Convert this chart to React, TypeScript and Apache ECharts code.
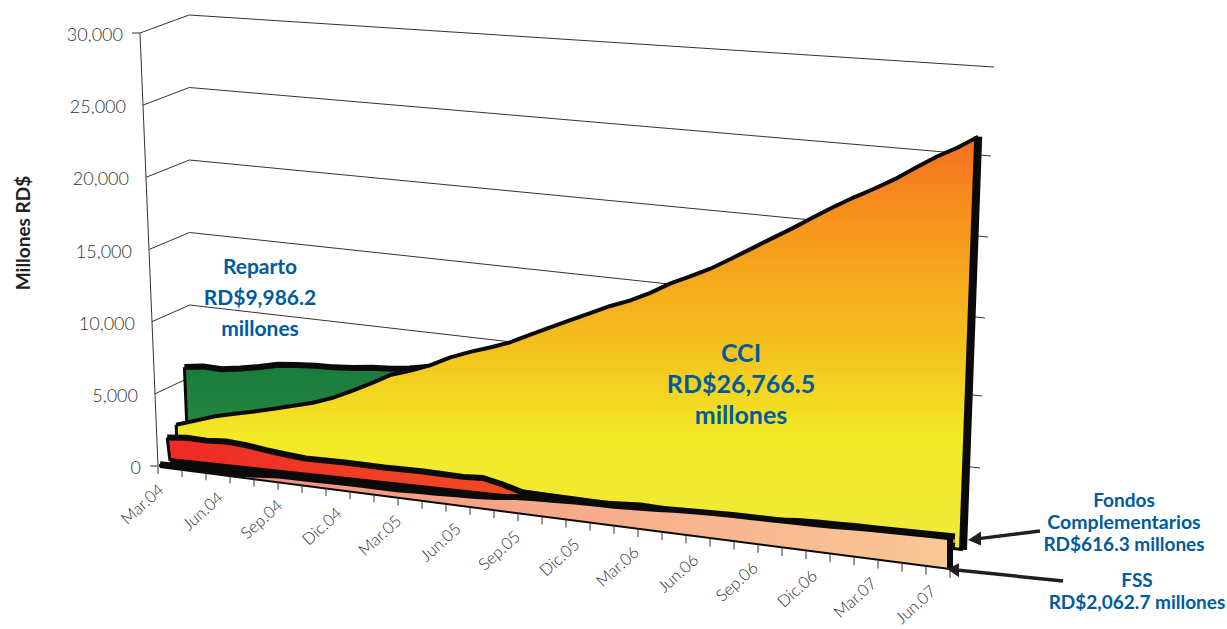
import React, { useEffect, useRef } from "react";
import * as echarts from "echarts";

const xLabels = ["Mar.04","Jun.04","Sep.04","Dic.04","Mar.05","Jun.05","Sep.05","Dic.05","Mar.06","Jun.06","Sep.06","Dic.06","Mar.07","Jun.07"];
const yTicks = [0, 5000, 10000, 15000, 20000, 25000, 30000];
const tickIntervals = 33;
const lastMonth = 40;

// one value per month, Mar.04 .. Jul.07, millones RD$
const reparto = [4360,4540,4510,4700,4950,5260,5380,5470,5510,5610,5780,5850,6000,6250,6500,6750,6900,7000,7100,7200,7300,7400,7500,7600,7700,7800,7900,8000,8100,8250,8400,8550,8700,8850,9000,9150,9300,9450,9600,9800,9986];
const cci = [1400,1865,2350,2690,3030,3390,3770,4150,4650,5300,6000,6740,7180,7720,8410,8940,9400,9900,10560,11210,11860,12480,13110,13630,14290,15070,15700,16350,17140,17950,18770,19570,20420,21250,22020,22730,23490,24370,25210,25920,26766];
const fondos = [1620,1760,1700,1780,1680,1480,1320,1190,1190,1200,1180,1150,1160,1160,1110,1080,1150,850,450,395,335,260,290,360,435,375,320,325,335,340,350,425,530,570,580,590,595,600,610,615,616];
const fss = [200,205,205,220,240,340,465,480,510,545,560,560,570,640,670,750,800,900,1060,1150,1200,1270,1310,1330,1400,1460,1560,1620,1670,1710,1730,1750,1770,1790,1830,1890,1950,1980,2010,2040,2062];

// right-hand ends of the back-wall lines, 5,000 .. 30,000
const wallRightEnds = [[980,468],[982,396],[985,318],[988,237],[991,156],[994,67]];

type Layer = { x0:number; y0:number; x1:number; y1:number; H0:number; H1:number; lean0:number; lean1:number };
const FRONT: Layer = { x0:158, y0:466, x1:950, y1:570, H0:433, H1:463, lean0:-0.0416, lean1:0.05 };
const BACK: Layer = { x0:190, y0:450, x1:978, y1:548, H0:435, H1:481, lean0:-0.002, lean1:0.033 };
const L_FSS: Layer = { x0:160, y0:467, x1:950, y1:569, H0:433, H1:463, lean0:0, lean1:0 };
const L_FONDOS: Layer = { x0:170, y0:461, x1:955, y1:546, H0:433, H1:463, lean0:-0.12, lean1:0 };
const L_CCI: Layer = { x0:177, y0:445, x1:963, y1:549.8, H0:433, H1:463, lean0:-0.0416, lean1:0.0368 };
const L_REPARTO: Layer = { x0:187, y0:430, x1:935, y1:520, H0:433, H1:463, lean0:-0.0416, lean1:0.02 };

const INK = "#0a0a0a";
const GREY = "#303030";
const BLUE = "#005a9e";
const FONT = "Lato, 'Noto Sans', sans-serif";

function projector(api: any, layer: Layer) {
  const o = api.coord([0, 0]);
  const f = api.coord([lastMonth, 30000]);
  return (m: number, v: number): number[] => {
    const p = api.coord([m, v]);
    const u = (p[0] - o[0]) / (f[0] - o[0]);
    const w = (o[1] - p[1]) / (o[1] - f[1]);
    const H = layer.H0 + (layer.H1 - layer.H0) * u;
    const lean = layer.lean0 + (layer.lean1 - layer.lean0) * u;
    const h = w * H;
    return [
      layer.x0 + (layer.x1 - layer.x0) * u + lean * h,
      layer.y0 + (layer.y1 - layer.y0) * u - h,
    ];
  };
}

function poly(points: number[][], width: number) {
  return {
    type: "polyline",
    shape: { points },
    style: { stroke: INK, lineWidth: width, fill: "none", lineJoin: "miter", miterLimit: 6, lineCap: "butt" },
  };
}

function areaSeries(
  values: number[],
  layer: Layer,
  fill: any,
  widths: { top: number; left: number; right: number; bottom: number },
  z: number,
) {
  return {
    type: "custom",
    coordinateSystem: "cartesian2d",
    data: values.map((v, m) => [m, v]),
    encode: { x: 0, y: 1 },
    clip: false,
    silent: true,
    z,
    renderItem: (params: any, api: any) => {
      if (params.dataIndex !== 0) return null;
      const pr = projector(api, layer);
      const top = values.map((v, m) => pr(m, v));
      const base = values.map((_, m) => pr(m, 0));
      const n = values.length - 1;
      const children: any[] = [
        { type: "polygon", shape: { points: [...top, base[n], base[0]] }, style: { fill } },
      ];
      if (widths.bottom) children.push(poly([base[0], base[n]], widths.bottom));
      if (widths.left) children.push(poly([base[0], top[0]], widths.left));
      if (widths.right) children.push(poly([top[n], base[n]], widths.right));
      children.push(poly(top, widths.top));
      return { type: "group", children };
    },
  };
}

export default function App() {
  const ref = useRef<HTMLDivElement>(null);
  useEffect(() => {
    const chart = echarts.init(ref.current!, null, { renderer: "svg" });
    const V = (stops: [number, string][]) =>
      new echarts.graphic.LinearGradient(0, 0, 0, 1, stops.map(([offset, color]) => ({ offset, color })));
    const Hz = (stops: [number, string][]) =>
      new echarts.graphic.LinearGradient(0, 0, 1, 0, stops.map(([offset, color]) => ({ offset, color })));

    const blueText = (text: string, x: number, y: number, size: number) => ({
      type: "text",
      x,
      y,
      z: 50,
      style: { text, fill: BLUE, font: `bold ${size}px ${FONT}`, textAlign: "center", textVerticalAlign: "middle" },
    });
    const arrow = (sx: number, sy: number, tx: number, ty: number, hx: number) => {
      const slope = (sy - ty) / (sx - tx);
      const hy = ty + slope * (hx - tx);
      return [
        { type: "line", z: 50, shape: { x1: sx, y1: sy, x2: hx, y2: hy }, style: { stroke: "#231f20", lineWidth: 3.5 } },
        { type: "polygon", z: 50, shape: { points: [[tx, ty], [hx, hy - 7], [hx, hy + 7]] }, style: { fill: "#231f20" } },
      ];
    };

    chart.setOption({
      animation: false,
      grid: { left: 158, top: 33, width: 792, height: 433, containLabel: false },
      xAxis: { type: "value", min: 0, max: lastMonth, show: false },
      yAxis: { type: "value", min: 0, max: 30000, interval: 5000, show: false },
      series: [
        {
          // walls and value axis
          type: "custom",
          coordinateSystem: "cartesian2d",
          data: yTicks.map((v) => [0, v]),
          encode: { x: 0, y: 1 },
          clip: false,
          silent: true,
          z: 1,
          renderItem: (params: any, api: any) => {
            const i = params.dataIndex;
            const v = yTicks[i];
            const front = projector(api, FRONT)(0, v);
            const back = projector(api, BACK)(0, v);
            const stroke = { stroke: "#333333", lineWidth: 1 };
            const kids: any[] = [];
            if (v > 0) {
              const end = wallRightEnds[i - 1];
              kids.push({ type: "line", shape: { x1: front[0], y1: front[1], x2: back[0], y2: back[1] }, style: stroke });
              kids.push({ type: "line", shape: { x1: back[0], y1: back[1], x2: end[0], y2: end[1] }, style: stroke });
            }
            if (v === 0 || v === 30000) {
              kids.push({ type: "line", shape: { x1: front[0] - 8, y1: front[1], x2: front[0], y2: front[1] }, style: stroke });
            }
            if (v === 0) {
              const topPt = projector(api, FRONT)(0, 30000);
              kids.push({ type: "line", shape: { x1: front[0], y1: front[1], x2: topPt[0], y2: topPt[1] }, style: stroke });
            }
            kids.push({
              type: "text",
              x: front[0] - 17,
              y: front[1] + 1,
              style: {
                text: v.toLocaleString("en-US"),
                fill: GREY,
                font: `300 18px ${FONT}`,
                textAlign: "right",
                textVerticalAlign: "middle",
              },
            });
            return { type: "group", children: kids };
          },
        },
        areaSeries(reparto, L_REPARTO, V([[0, "#197b3c"], [1, "#3a9347"]]), { top: 6, left: 3, right: 0, bottom: 0 }, 2),
        areaSeries(
          cci,
          L_CCI,
          V([[0, "#f26f21"], [0.2, "#f7941d"], [0.51, "#f4c11e"], [0.73, "#f2ea25"], [1, "#f0ea3a"]]),
          { top: 4, left: 3, right: 8, bottom: 3 },
          3,
        ),
        areaSeries(fondos, L_FONDOS, Hz([[0, "#ee2a26"], [1, "#f5751f"]]), { top: 6, left: 3, right: 0, bottom: 6 }, 4),
        areaSeries(fss, L_FSS, Hz([[0, "#f28a80"], [1, "#f9c896"]]), { top: 6, left: 2, right: 6, bottom: 2 }, 5),
        {
          // category ticks and labels along the slanted floor edge
          type: "custom",
          coordinateSystem: "cartesian2d",
          data: xLabels.map((_, i) => [i * 3, 0]),
          encode: { x: 0, y: 1 },
          clip: false,
          silent: true,
          z: 6,
          renderItem: (params: any, api: any) => {
            const pr = projector(api, FRONT);
            const kids: any[] = [];
            const p = pr(params.dataIndex * 3, 0);
            kids.push({
              type: "text",
              x: p[0] + 3,
              y: p[1] + 21,
              rotation: (42 * Math.PI) / 180,
              style: {
                text: xLabels[params.dataIndex],
                fill: GREY,
                font: `300 16.5px ${FONT}`,
                textAlign: "right",
                textVerticalAlign: "middle",
              },
            });
            if (params.dataIndex === 0) {
              for (let t = 0; t <= tickIntervals; t++) {
                const q = pr((t * lastMonth) / tickIntervals, 0);
                kids.push({
                  type: "line",
                  shape: { x1: q[0], y1: q[1], x2: q[0], y2: q[1] + 8 },
                  style: { stroke: "#333333", lineWidth: 1 },
                });
              }
            }
            return { type: "group", children: kids };
          },
        },
      ],
      graphic: [
        {
          type: "text",
          x: 22,
          y: 233,
          rotation: Math.PI / 2,
          z: 50,
          style: {
            text: "Millones RD$",
            fill: "#222222",
            font: `bold 19px ${FONT}`,
            textAlign: "center",
            textVerticalAlign: "middle",
          },
        },
        blueText("Reparto", 260, 265, 21),
        blueText("RD$9,986.2", 260, 296, 21),
        blueText("millones", 260, 327, 21),
        blueText("CCI", 741, 352, 25),
        blueText("RD$26,766.5", 741, 383, 25),
        blueText("millones", 741, 414, 25),
        blueText("Fondos", 1124, 499, 19),
        blueText("Complementarios", 1124, 521, 19.5),
        blueText("RD$616.3 millones", 1124, 543, 19),
        blueText("FSS", 1137, 579, 19),
        blueText("RD$2,062.7 millones", 1137, 601, 19),
        ...arrow(1040, 531, 968, 540, 981),
        ...arrow(1063, 581, 947, 569, 959),
      ],
    });
    return () => chart.dispose();
  }, []);
  return <div ref={ref} style={{ position: "absolute", left: 0, top: 0, width: 1227, height: 629 }} />;
}
